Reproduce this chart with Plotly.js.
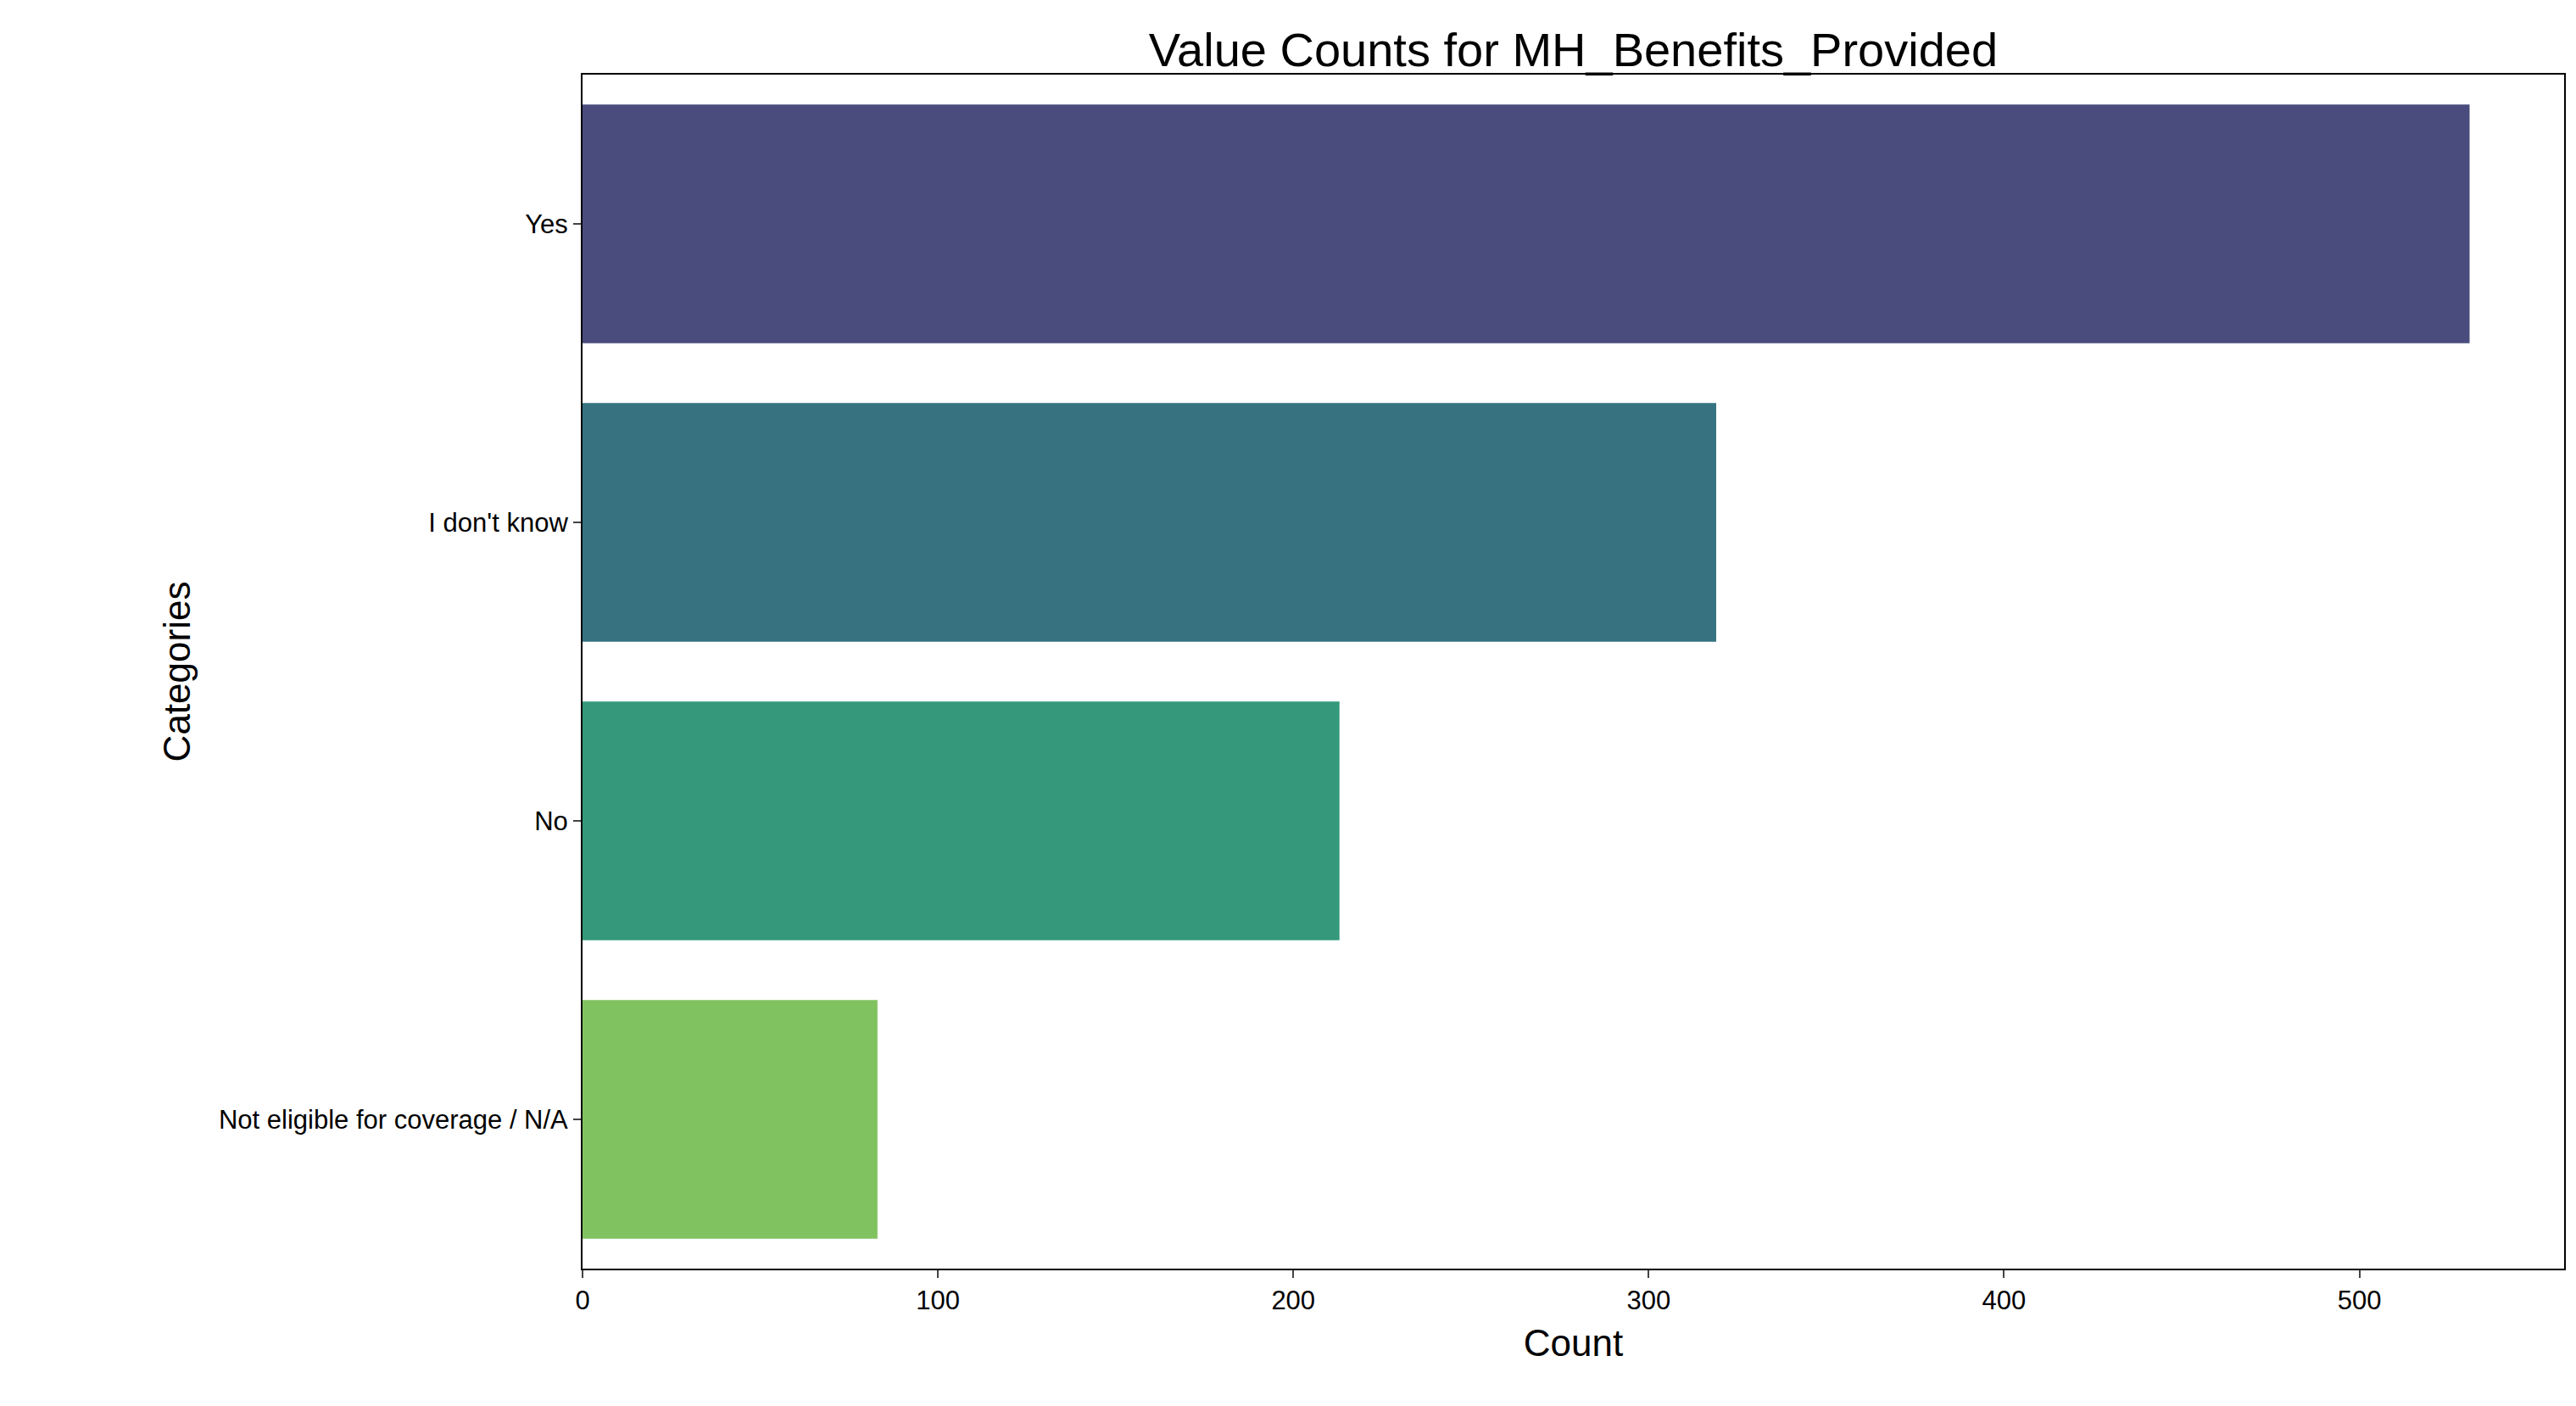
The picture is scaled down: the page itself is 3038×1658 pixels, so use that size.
<!DOCTYPE html>
<html><head><meta charset="utf-8">
<script src="https://cdn.plot.ly/plotly-3.0.1.min.js"></script>
<style>html,body{margin:0;padding:0;background:#fff}</style>
</head><body><div id="c" style="width:3038px;height:1658px"></div>
<script>
const categories = ["Yes", "I don't know", "No", "Not eligible for coverage / N/A"];
const counts = [531, 319, 213, 83];
const colors = ["#4a4c7d", "#367280", "#35987b", "#81c260"];
const xTicks = [0, 100, 200, 300, 400, 500];

const font = "Liberation Sans, Arial, sans-serif";
Plotly.newPlot("c", [{
  type: "bar", orientation: "h", y: categories, x: counts,
  marker: {color: colors}, width: 0.8, hoverinfo: "none"
}], {
  width: 3038, height: 1658,
  margin: {l: 687, r: 14, t: 88, b: 162},
  paper_bgcolor: "#fff", plot_bgcolor: "#fff",
  font: {family: font, color: "#000", size: 31},
  title: {text: "Value Counts for MH_Benefits_Provided", font: {size: 56}, x: 0.5 + (687-14)/2/3038, xanchor: "center", y: 1 - 58/1658, yanchor: "middle"},
  xaxis: {range: [0, 557.6], tickvals: xTicks, ticks: "outside", ticklen: 9, tickwidth: 2,
    showline: true, linewidth: 2, linecolor: "#000", mirror: true, showgrid: false, zeroline: false,
    title: {text: "Count", font: {size: 44}, standoff: 18}},
  yaxis: {autorange: "reversed", ticks: "outside", ticklen: 9, tickwidth: 2,
    showline: true, linewidth: 2, linecolor: "#000", mirror: true, showgrid: false,
    title: {text: "Categories", font: {size: 44}, standoff: 20}},
  showlegend: false
}, {displayModeBar: false});
</script></body></html>
